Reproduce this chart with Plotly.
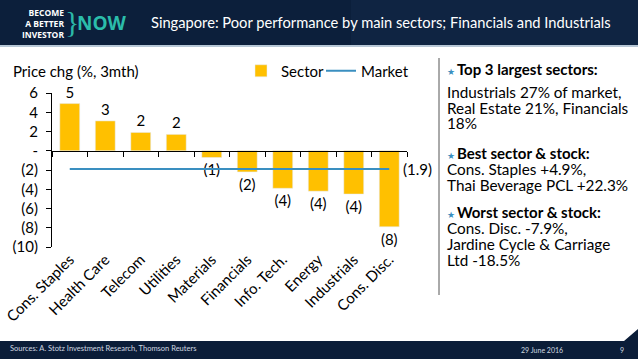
import plotly.graph_objects as go

W, H = 638, 359

categories = ["Cons. Staples", "Health Care", "Telecom", "Utilities", "Materials",
              "Financials", "Info. Tech.", "Energy", "Industrials", "Cons. Disc."]
sector = [4.9, 3.1, 1.9, 1.7, -0.7, -2.2, -3.9, -4.2, -4.5, -7.9]
market = [-1.9] * 10
y_ticks = [6, 4, 2, 0, -2, -4, -6, -8, -10]


def fmt(v):
    if v == 0:
        return "-"
    r = int(round(abs(v)))
    return f"({r})" if v < 0 else f"{r}"


bar_labels = [fmt(v) for v in sector]
market_label = f"({abs(market[-1]):.1f})"
y_tick_text = [fmt(v) for v in y_ticks]

FONT = "Lato"
BAR = "#FFC000"
LINE = "#3A8FC0"
FS = 15


def px(x):
    return x / W


def py(y):
    return (H - y) / H


fig = go.Figure()
fig.add_bar(x=categories, y=sector, name="Sector", marker_color=BAR, width=0.56,
            text=bar_labels, textposition="outside", constraintext="none",
            textfont=dict(size=FS, color="#000", family=FONT), cliponaxis=False,
            legend="legend")
fig.add_scatter(x=categories, y=market, name="Market", mode="lines",
                line=dict(color=LINE, width=2), xaxis="x2", legend="legend2")

dom = [px(52), px(407)]
xr = [-0.5, len(categories) - 0.5]
leg_common = dict(orientation="h", yanchor="middle", xanchor="left", font=dict(size=FS),
                  itemwidth=30, bgcolor="rgba(0,0,0,0)")
fig.update_layout(
    width=W, height=H, margin=dict(l=0, r=0, t=0, b=0, autoexpand=False),
    paper_bgcolor="white", plot_bgcolor="white",
    font=dict(family=FONT, size=FS, color="#000"),
    bargap=0.44,
    xaxis=dict(domain=dom, anchor="y", range=xr, showline=False, ticks="", tickangle=-45,
               tickfont=dict(size=FS), showgrid=False, zeroline=False, automargin=False),
    xaxis2=dict(overlaying="x", matches="x", anchor="free", position=py(151),
                showline=True, linecolor="#000", linewidth=1, ticks="outside",
                ticklen=5, tickcolor="#000", tickson="boundaries",
                showticklabels=False, showgrid=False, zeroline=False, automargin=False),
    yaxis=dict(domain=[py(247), py(93)], range=[-10, 6], tickvals=y_ticks,
               ticktext=y_tick_text, showline=True, linecolor="#000", ticks="outside",
               ticklen=5, tickcolor="#000", showgrid=False, zeroline=False,
               tickfont=dict(size=FS), ticklabelstandoff=5, automargin=False),
    legend=dict(x=px(241), y=py(71), **leg_common),
    legend2=dict(x=px(321), y=py(71), **leg_common),
    showlegend=True,
)

shapes = [
    # header banner
    dict(type="rect", xref="paper", yref="paper", x0=0, x1=1, y0=py(45), y1=1,
         fillcolor="#0c1f3b", line_width=0, layer="below"),
    dict(type="rect", xref="paper", yref="paper", x0=0.55, x1=1, y0=py(45), y1=1,
         fillcolor="#112a4a", opacity=0.5, line_width=0, layer="below"),
    dict(type="line", xref="paper", yref="paper", x0=0, x1=1, y0=py(46), y1=py(46),
         line=dict(color="#9fb4c8", width=1.5)),
    # footer
    dict(type="path", xref="paper", yref="paper",
         path=f"M 0 {py(341)} L {px(624)} {py(341)} L {px(638)} {py(329)} L 1 0 L 0 0 Z",
         fillcolor="#0b1d38", line_width=0),
    # separator
    dict(type="line", xref="paper", yref="paper", x0=px(439), x1=px(439), y0=py(58), y1=py(295),
         line=dict(color="#555555", width=1)),
]

anns = [
    dict(text=market_label, x=categories[-1], y=market[-1], xref="x", yref="y",
         xanchor="left", yanchor="middle", xshift=12, font=dict(size=FS)),
    dict(text="Price chg (%, 3mth)", x=px(11), y=py(71), xanchor="left", yanchor="middle",
         font=dict(size=FS)),
    dict(text="Singapore: Poor performance by main sectors; Financials and Industrials",
         x=px(149), y=py(22), xanchor="left", yanchor="middle",
         font=dict(size=14.7, color="white", family="Lato")),
    dict(text="<b>BECOME<br>A BETTER<br>INVESTOR</b>", x=px(66), y=py(23), xanchor="right",
         yanchor="middle", align="right", font=dict(size=8.5, color="white", family="Open Sans")),
    dict(text="}", x=px(63), y=py(22), xanchor="left", yanchor="middle",
         font=dict(size=30, color="#2bb8a8", family="Liberation Sans Narrow")),
    dict(text="<b>NOW</b>", x=px(129), y=py(23), xanchor="right", yanchor="middle",
         font=dict(size=19, color="#2bbcaa", family="Open Sans")),
    dict(text="Sources: A. Stotz Investment Research, Thomson Reuters", x=px(8), y=py(348),
         xanchor="left", yanchor="middle", font=dict(size=7.5, color="#d0d8e0")),
    dict(text="29 June 2016", x=px(519), y=py(350), xanchor="left", yanchor="middle",
         font=dict(size=7, color="#d0d8e0")),
    dict(text="9", x=px(622), y=py(350), xanchor="center", yanchor="middle",
         font=dict(size=7, color="#d0d8e0")),
]

STAR = "<span style='color:#3A8FC0;font-size:9px'>★</span>\u2009"
panel = [
    (69, f"{STAR}<b>Top 3 largest sectors:</b>", 15),
    (92, "Industrials 27% of market,", 15.3),
    (108, "Real Estate 21%, Financials", 15.3),
    (123, "18%", 15.3),
    (153, f"{STAR}<b>Best sector &amp; stock:</b>", 15),
    (169, "Cons. Staples +4.9%,", 15.3),
    (185, "Thai Beverage PCL +22.3%", 15.3),
    (212, f"{STAR}<b>Worst sector &amp; stock:</b>", 15),
    (228, "Cons. Disc. -7.9%,", 15.3),
    (244, "Jardine Cycle &amp; Carriage", 15.3),
    (260, "Ltd -18.5%", 15.3),
]
for y, t, s in panel:
    anns.append(dict(text=t, x=px(445), y=py(y), xanchor="left", yanchor="middle",
                     font=dict(size=s)))

for a in anns:
    a.setdefault("xref", "paper")
    a.setdefault("yref", "paper")
    a.update(showarrow=False)

fig.update_layout(shapes=shapes, annotations=anns)
fig.write_html("out.html", config={"displayModeBar": False},
               post_script="document.body.style.margin='0px';document.body.style.padding='0px';")
